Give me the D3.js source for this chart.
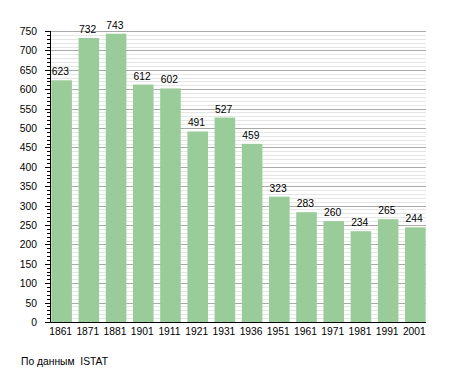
<!DOCTYPE html>
<html><head><meta charset="utf-8">
<script src="https://cdn.jsdelivr.net/npm/d3@7"></script>
<style>body{margin:0;background:#fff}svg{display:block;font-family:"Liberation Sans",Arial,sans-serif}</style>
</head><body>
<script>
const years = ["1861","1871","1881","1901","1911","1921","1931","1936","1951","1961","1971","1981","1991","2001"];
const population = [623,732,743,612,602,491,527,459,323,283,260,234,265,244];
const majorTicks = [0,50,100,150,200,250,300,350,400,450,500,550,600,650,700,750];
const sourceNote = "По данным  ISTAT";

const W=455,H=373,FS=10.3;
const svg=d3.select("body").append("svg").attr("width",W).attr("height",H);
const x=d3.scaleBand().domain(years).range([50,427]).paddingInner(0.2435).paddingOuter(0.05);
const y=d3.scaleLinear().domain([0,750]).range([322,31]);

const minor=d3.range(0,751,10);
svg.append("g").selectAll("line").data(minor.filter(v=>v%50!==0)).join("line")
 .attr("x1",50).attr("x2",426).attr("y1",d=>Math.round(y(d))+0.5).attr("y2",d=>Math.round(y(d))+0.5)
 .attr("stroke","#e6e6e6");
svg.append("g").selectAll("line").data(majorTicks.filter(v=>v>0)).join("line")
 .attr("x1",50).attr("x2",426).attr("y1",d=>Math.round(y(d))+0.5).attr("y2",d=>Math.round(y(d))+0.5)
 .attr("stroke","#a9a9a9");

svg.append("g").selectAll("rect").data(population).join("rect")
 .attr("x",(d,i)=>x(years[i])).attr("width",x.bandwidth())
 .attr("y",d=>y(d)).attr("height",d=>y(0)-y(d)).attr("fill","#99cc99");

svg.append("g").selectAll("text").data(population).join("text")
 .attr("x",(d,i)=>x(years[i])+0.5).attr("y",d=>y(d)-5)
 .attr("font-size",FS).attr("fill","#000").text(d=>d);

// y axis
const ya=svg.append("g");
ya.append("line").attr("x1",50.5).attr("x2",50.5).attr("y1",y(750)).attr("y2",y(0)+0.5).attr("stroke","#000");
ya.selectAll("line.mn").data(minor).join("line").attr("class","mn")
 .attr("x1",d=>d%50===0?45:47).attr("x2",50).attr("y1",d=>Math.round(y(d))+0.5).attr("y2",d=>Math.round(y(d))+0.5).attr("stroke","#000");
ya.selectAll("text").data(majorTicks).join("text")
 .attr("x",37).attr("y",d=>y(d)+4).attr("text-anchor","end").attr("font-size",FS).text(d=>d);

// x axis
svg.append("line").attr("x1",50).attr("x2",426).attr("y1",322.5).attr("y2",322.5).attr("stroke","#000");
svg.append("g").selectAll("text").data(years).join("text")
 .attr("x",d=>x(d)+x.bandwidth()/2-1).attr("y",335).attr("text-anchor","middle").attr("font-size",FS).text(d=>d);

svg.append("text").attr("x",21).attr("y",365).attr("font-size",FS).attr("xml:space","preserve").style("white-space","pre").text(sourceNote);
</script>
</body></html>
